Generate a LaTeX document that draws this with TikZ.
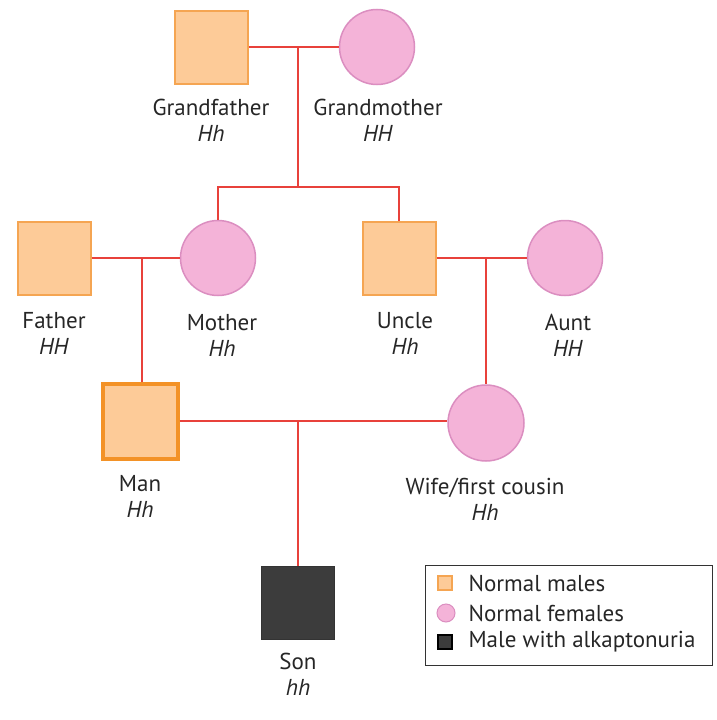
\documentclass[tikz,border=0pt]{standalone}
\usepackage{fontspec}
\setmainfont{PT Sans}
\definecolor{malefill}{HTML}{FDCB98}
\definecolor{maleborder}{HTML}{F5A552}
\definecolor{manborder}{HTML}{F39227}
\definecolor{femfill}{HTML}{F4B3D8}
\definecolor{femborder}{HTML}{DB8EC0}
\definecolor{linered}{HTML}{E8413B}
\definecolor{sonfill}{HTML}{3C3C3C}
\begin{document}
\begin{tikzpicture}[x=1pt,y=-1pt,
  male/.style={draw=maleborder, fill=malefill, line width=2pt, minimum size=73pt, inner sep=0pt},
  female/.style={circle, draw=femborder, fill=femfill, line width=1.5pt, minimum size=75pt, inner sep=0pt},
  rel/.style={draw=linered, line width=2.2pt},
  lbl/.style={font=\fontsize{23}{26}\selectfont, align=center, text=black!85},
  leg/.style={font=\fontsize{23}{26}\selectfont, anchor=west, text=black!85}]
\useasboundingbox (0,0) rectangle (717,720);
% nodes
\node[male] (gf) at (211,47) {};
\node[female] (gm) at (377,47) {};
\node[male] (father) at (54,258) {};
\node[female] (mother) at (218,258) {};
\node[male] (uncle) at (399,258) {};
\node[female] (aunt) at (565,258) {};
\node[male, draw=manborder, line width=4pt, minimum size=75pt] (man) at (140,421) {};
\node[female, minimum size=76pt] (wife) at (486,423) {};
\node[male, draw=black!80, fill=sonfill, line width=1.5pt] (son) at (298,603) {};
% labels
\node[lbl] (lgf) at (211,120) {Grandfather\\\textit{Hh}};
\node[lbl] (lgm) at (378,120) {Grandmother\\\textit{HH}};
\node[lbl] (lfa) at (54,333) {Father\\\textit{HH}};
\node[lbl] (lmo) at (222,335) {Mother\\\textit{Hh}};
\node[lbl] (lun) at (405,333) {Uncle\\\textit{Hh}};
\node[lbl] (lau) at (568,335) {Aunt\\\textit{HH}};
\node[lbl] (lman) at (140,496) {Man\\\textit{Hh}};
\node[lbl] (lwife) at (485,499) {Wife/first cousin\\\textit{Hh}};
\node[lbl] (lson) at (298,674) {Son\\\textit{hh}};
% connectors
\coordinate (gpj) at (298,47);
\coordinate (gpd) at (298,187);
\draw[rel] (gf) -- (gm);
\draw[rel] (gpj) -- (gpd);
\draw[rel] (mother.north) -- (mother.north |- gpd) -| (uncle.north);
\coordinate (fmj) at (142,258);
\draw[rel] (father) -- (mother);
\draw[rel] (fmj) -- (fmj |- man.north);
\coordinate (uaj) at (486,258);
\draw[rel] (uncle) -- (aunt);
\draw[rel] (uaj) -- (wife.north);
\coordinate (mwj) at (298,421);
\draw[rel] (man.east) -- (man.east -| wife.west);
\draw[rel] (mwj) -- (son.north);
% legend
\node[draw=black!80, line width=1pt, minimum width=287pt, minimum height=100pt, inner sep=0pt] (legend) at (568.5,615) {};
\node[male, minimum size=14pt, line width=1.5pt] (k1) at (445,583) {};
\node[female, minimum size=18pt, line width=1pt] (k2) at (446,613) {};
\node[male, minimum size=14pt, line width=1.5pt, draw=black, fill=sonfill] (k3) at (445,642) {};
\node[leg] (t1) at (465,583) {Normal males};
\node[leg] (t2) at (465,613) {Normal females};
\node[leg] (t3) at (465,642) {Male with alkaptonuria};
\end{tikzpicture}
\end{document}
